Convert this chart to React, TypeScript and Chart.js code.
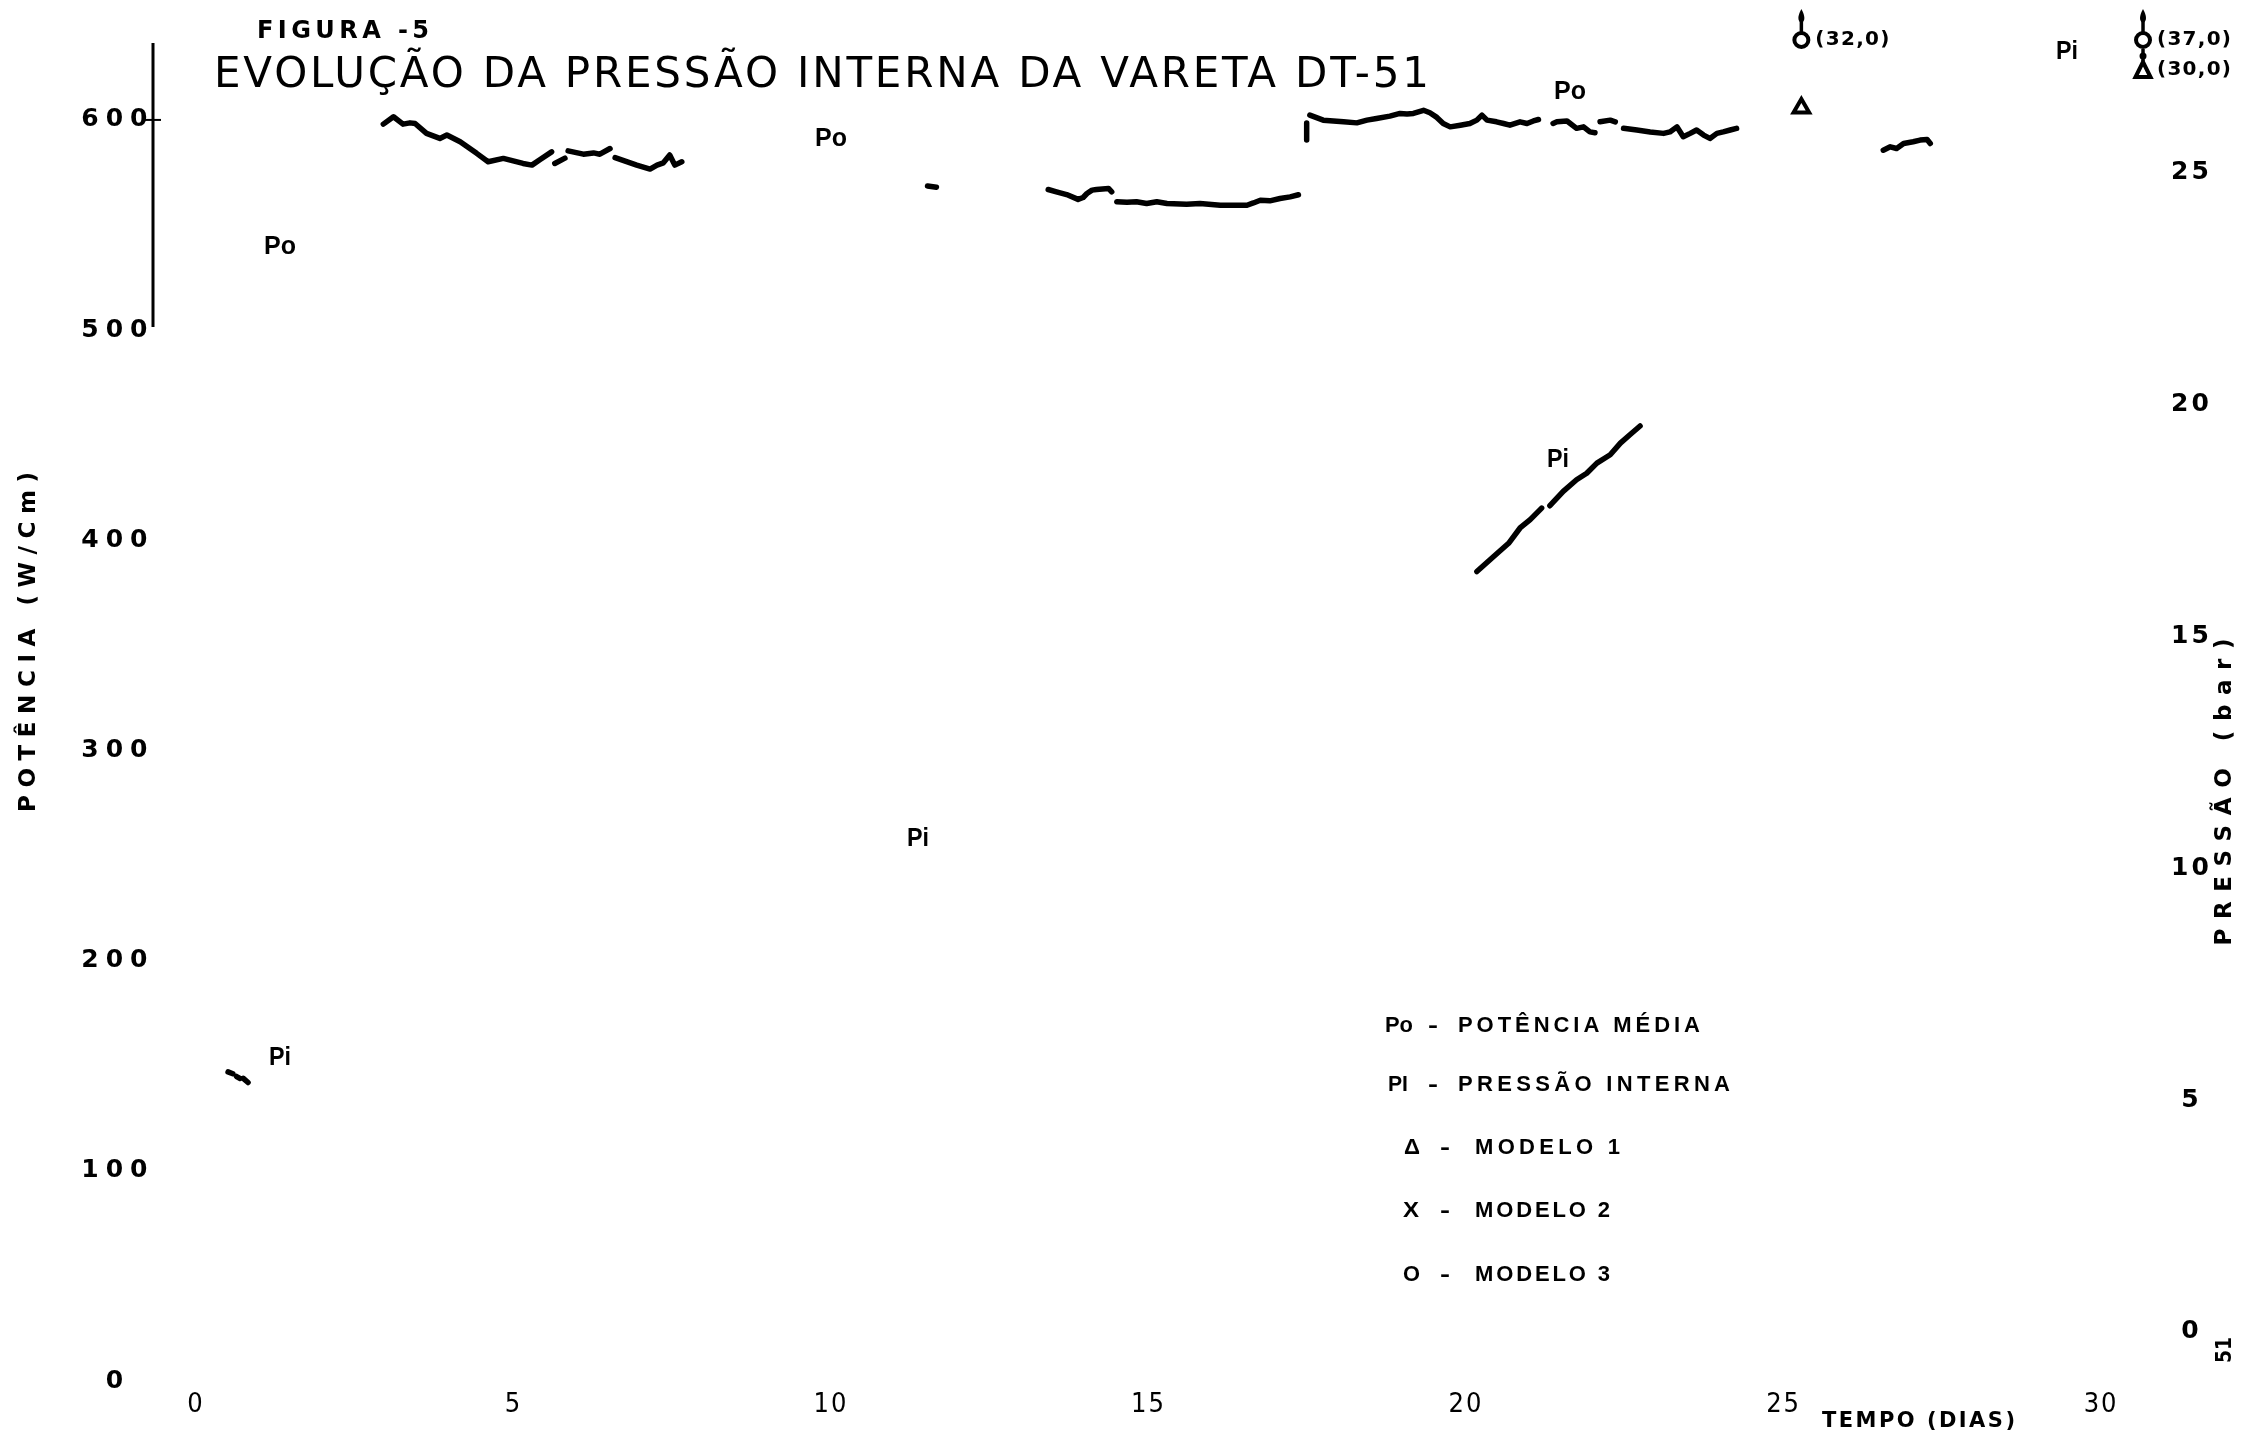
import React, { useEffect, useRef } from 'react';
import { Chart, registerables } from 'chart.js';

Chart.register(...registerables);

const W = 2241;
const H = 1442;

// ---- tick labels ----
const DAY_TICKS = [0, 5, 10, 15, 20, 25, 30];
const PO_TICKS = [0, 100, 200, 300, 400, 500, 600];
const PI_TICKS = [0, 5, 10, 15, 20, 25];

// ---- Po : potência média (W/cm) ; null = gap in the record ----
const PO_DAYS = [
  2.95, 3.11, 3.26, 3.37, 3.45, 3.63, 3.84, 3.95, 4.16, 4.42, 4.6, 4.84, 5.15, 5.29, 5.42, 5.6,
  5.62, 5.65, 5.81, 5.84, 5.86, 6.1, 6.26, 6.36, 6.52, 6.56, 6.6, 6.94, 7.15, 7.26, 7.36, 7.46, 7.54, 7.65,
  9.0, 11.52, 11.66, 12.5,
  13.42, 13.55, 13.71, 13.89, 13.97, 14.03, 14.11, 14.18, 14.37, 14.42, 14.46,
  14.5, 14.66, 14.81, 14.97, 15.13, 15.29, 15.6, 15.81, 16.13, 16.55, 16.65, 16.76, 16.91, 17.07, 17.23, 17.36,
  17.42, 17.49, 17.49, 17.52,
  17.54, 17.75, 18.07, 18.28, 18.44, 18.59, 18.8, 18.96, 19.07, 19.17, 19.33, 19.43, 19.54, 19.64, 19.75,
  19.91, 20.06, 20.17, 20.25, 20.33, 20.48, 20.59, 20.69, 20.85, 20.96, 21.06, 21.14, 21.25,
  21.37, 21.43, 21.59, 21.74, 21.85, 21.95, 22.03, 22.07,
  22.11, 22.27, 22.35, 22.42,
  22.48, 22.69, 22.9, 23.11, 23.21, 23.32, 23.42, 23.53, 23.63, 23.74, 23.84, 23.95, 24.05, 24.16, 24.26,
  25.5,
  26.57, 26.68, 26.78, 26.89, 27.04, 27.15, 27.26, 27.31,
];
const PO_WCM = [
  598.0, 601.5, 598.0, 598.6, 598.3, 593.6, 591.2, 592.8, 589.6, 584.1, 580.1, 581.7, 579.3, 578.5, 581.2, 584.8,
  null, 579.3, 581.8, null, 585.3, 583.7, 584.3, 583.7, 586.4, null, 582.1, 578.5, 576.6, 578.5, 579.6, 583.3, 578.5, 580.1,
  null, 568.6, 568.0, null,
  566.9, 565.8, 564.5, 562.2, 563.1, 565.0, 566.6, 566.9, 567.4, 565.8, null,
  561.1, 560.8, 561.1, 560.2, 561.1, 560.2, 559.9, 560.2, 559.4, 559.4, 560.5, 561.8, 561.5, 562.6, 563.4, 564.4,
  null, 598.5, 590.5, null,
  602.3, 599.9, 599.1, 598.6, 599.9, 600.7, 601.8, 603.1, 602.8, 603.1, 604.6, 603.4, 601.2, 598.3, 596.7,
  597.5, 598.3, 599.9, 602.3, 599.9, 599.1, 598.3, 597.5, 599.1, 598.3, 599.5, 600.2, null,
  598.3, 599.1, 599.5, 596.0, 596.7, 594.3, 593.9, null,
  599.1, 599.9, 599.1, null,
  596.0, 595.2, 594.3, 593.6, 594.3, 596.7, 592.0, 593.6, 595.2, 592.8, 591.2, 593.6, 594.3, 595.2, 596.0,
  null,
  585.6, 587.2, 586.4, 588.8, 589.6, 590.4, 590.7, 588.8,
];

// ---- Pi : pressão interna (bar) ----
const PI_DAYS = [
  0.505, 0.58, 0.61, 0.64, 0.69, 0.72, 0.745, 0.82,
  10.0,
  20.17, 20.43, 20.67, 20.85, 21.01, 21.19, 21.25,
  21.32, 21.53, 21.74, 21.9, 22.06, 22.27, 22.43, 22.58, 22.74,
];
const PI_BAR = [
  5.61, 5.57, null, 5.51, 5.47, null, 5.47, 5.38,
  null,
  16.4, 16.72, 17.01, 17.34, 17.52, 17.77, null,
  17.82, 18.13, 18.38, 18.52, 18.74, 18.92, 19.17, 19.35, 19.54,
];

// ---- model predictions (bar) ----
const MODEL1_DAYS = [25.28, 30.66];
const MODEL1_BAR = [26.4, 30.0];
const MODEL2_DAYS: number[] = [];
const MODEL2_BAR: number[] = [];
const MODEL3_DAYS = [25.28, 30.66];
const MODEL3_BAR = [32.0, 37.0];

// ---- axis ranges ----
const X_MIN = -0.677;
const X_MAX = 30.77;
const PO_MIN = 0;
const PO_MAX = 636.6;
const PI_MIN = -1.057;
const PI_MAX = 27.8;

type Pt = { x: number; y: number | null };
const series = (days: number[], vals: (number | null)[]): Pt[] =>
  days.map((d, i) => ({ x: d, y: vals[i] }));

function fitText(
  ctx: CanvasRenderingContext2D,
  text: string,
  x: number,
  y: number,
  width: number,
  font: string,
  align: 'left' | 'center' = 'left',
  rotate = 0
) {
  ctx.save();
  ctx.font = font;
  (ctx as any).letterSpacing = '0px';
  const n = Array.from(text).length;
  const natural = ctx.measureText(text).width;
  let ls = 0;
  let sx = 1;
  if (width > natural && n > 1) ls = (width - natural) / (n - 1);
  else sx = width / natural;
  ctx.translate(x, y);
  if (rotate) ctx.rotate(rotate);
  ctx.scale(sx, 1);
  (ctx as any).letterSpacing = ls + 'px';
  ctx.textBaseline = 'middle';
  ctx.textAlign = 'left';
  ctx.fillStyle = '#000';
  const start = align === 'center' ? -width / 2 / sx : 0;
  ctx.fillText(text, start, 0);
  ctx.restore();
}

const BOLD = (s: number) => `bold ${s}px "DejaVu Sans", sans-serif`;
const LBOLD = (s: number) => `bold ${s}px "Liberation Sans", Arial, sans-serif`;

const spacingPatch = {
  id: 'tickSpacing',
  beforeDraw(chart: any) {
    const specs: Record<string, string> = { x: '2px', yPo: '7px', yPi: '3px' };
    Object.keys(specs).forEach((id) => {
      const s = chart.scales[id];
      if (!s || s.__patched) return;
      const orig = s.drawLabels.bind(s);
      s.drawLabels = (area: any) => {
        const c = chart.ctx;
        c.save();
        c.letterSpacing = specs[id];
        orig(area);
        c.restore();
      };
      s.__patched = true;
    });
  },
};

const decorations = {
  id: 'decorations',
  afterDatasetsDraw(chart: any) {
    const ctx: CanvasRenderingContext2D = chart.ctx;
    const area = chart.chartArea;
    const xS = chart.scales.x;
    const yPo = chart.scales.yPo;

    // partial left axis line (500 .. top) with tick at 600
    ctx.save();
    ctx.strokeStyle = '#000';
    ctx.lineWidth = 3;
    ctx.beginPath();
    ctx.moveTo(area.left, yPo.getPixelForValue(500) - 3);
    ctx.lineTo(area.left, area.top);
    ctx.stroke();
    ctx.lineWidth = 2;
    ctx.beginPath();
    ctx.moveTo(area.left - 8, yPo.getPixelForValue(600));
    ctx.lineTo(area.left + 8, yPo.getPixelForValue(600));
    ctx.stroke();
    ctx.restore();

    // off-scale model values, stacked at the top with arrows
    const groups = new Map<number, { v: number; style: string }[]>();
    const add = (days: number[], vals: number[], style: string) =>
      days.forEach((d, i) => {
        if (vals[i] > PI_MAX) {
          if (!groups.has(d)) groups.set(d, []);
          groups.get(d)!.push({ v: vals[i], style });
        }
      });
    add(MODEL1_DAYS, MODEL1_BAR, 'triangle');
    add(MODEL2_DAYS, MODEL2_BAR, 'cross');
    add(MODEL3_DAYS, MODEL3_BAR, 'circle');
    groups.forEach((items, day) => {
      items.sort((a, b) => b.v - a.v);
      const px = xS.getPixelForValue(day);
      let y = 40;
      ctx.save();
      ctx.strokeStyle = '#000';
      ctx.fillStyle = '#000';
      // arrow on top (tear-drop head)
      ctx.lineWidth = 3.5;
      ctx.beginPath();
      ctx.moveTo(px, y - 8);
      ctx.lineTo(px, y - 20);
      ctx.stroke();
      ctx.beginPath();
      ctx.moveTo(px, y - 31);
      ctx.quadraticCurveTo(px - 6, y - 20, px, y - 17);
      ctx.quadraticCurveTo(px + 6, y - 20, px, y - 31);
      ctx.fill();
      items.forEach((it, k) => {
        ctx.lineWidth = 4;
        if (it.style === 'circle') {
          ctx.beginPath();
          ctx.arc(px, y, 7, 0, Math.PI * 2);
          ctx.stroke();
        } else if (it.style === 'triangle') {
          ctx.beginPath();
          ctx.moveTo(px, y - 8);
          ctx.lineTo(px - 7.5, y + 7);
          ctx.lineTo(px + 7.5, y + 7);
          ctx.closePath();
          ctx.stroke();
        } else {
          ctx.beginPath();
          ctx.moveTo(px - 7, y - 7);
          ctx.lineTo(px + 7, y + 7);
          ctx.moveTo(px + 7, y - 7);
          ctx.lineTo(px - 7, y + 7);
          ctx.stroke();
        }
        const label = '(' + it.v.toFixed(1).replace('.', ',') + ')';
        fitText(ctx, label, px + 14, y, 74, BOLD(20));
        if (k < items.length - 1) {
          ctx.lineWidth = 3.5;
          ctx.beginPath();
          ctx.moveTo(px, y + 9);
          ctx.lineTo(px, y + 21);
          ctx.stroke();
          ctx.beginPath();
          ctx.arc(px, y + 16, 3.5, 0, Math.PI * 2);
          ctx.fill();
        }
        y += 30;
      });
      ctx.restore();
    });
  },
  afterDraw(chart: any) {
    const ctx: CanvasRenderingContext2D = chart.ctx;
    // titles
    fitText(ctx, 'FIGURA -5', 257, 32, 172, BOLD(24));
    fitText(ctx, 'EVOLUÇÃO DA PRESSÃO INTERNA DA VARETA DT-51', 214, 76, 1215, `42px "DejaVu Sans", sans-serif`);
    // axis titles
    fitText(ctx, 'POTÊNCIA (W/Cm)', 29, 642, 340, BOLD(23), 'center', -Math.PI / 2);
    fitText(ctx, 'PRESSÃO (bar)', 2225, 792, 307, BOLD(23), 'center', -Math.PI / 2);
    fitText(ctx, 'TEMPO (DIAS)', 1822, 1422, 193, BOLD(21));
    fitText(ctx, '51', 2225, 1350, 26, BOLD(22), 'center', -Math.PI / 2);
    // curve labels
    const lbl: [string, number, number][] = [
      ['Po', 280, 247],
      ['Pi', 280, 1058],
      ['Po', 831, 139],
      ['Pi', 918, 839],
      ['Pi', 1558, 460],
      ['Po', 1570, 92],
      ['Pi', 2067, 52],
    ];
    lbl.forEach(([t, x, y]) => fitText(ctx, t, x, y, t === 'Po' ? 32 : 22, LBOLD(25), 'center'));
    // legend block
    const F = LBOLD(22);
    fitText(ctx, 'Po', 1385, 1026, 28, F);
    fitText(ctx, '-', 1428, 1026, 10, F);
    fitText(ctx, 'POTÊNCIA MÉDIA', 1458, 1026, 242, F);
    fitText(ctx, 'PI', 1388, 1085, 20, F);
    fitText(ctx, '-', 1428, 1085, 10, F);
    fitText(ctx, 'PRESSÃO INTERNA', 1458, 1085, 272, F);
    fitText(ctx, 'Δ', 1404, 1148, 16, F);
    fitText(ctx, '-', 1440, 1148, 10, F);
    fitText(ctx, 'MODELO 1', 1475, 1148, 145, F);
    fitText(ctx, 'X', 1403, 1211, 16, F);
    fitText(ctx, '-', 1440, 1211, 10, F);
    fitText(ctx, 'MODELO 2', 1475, 1211, 135, F);
    fitText(ctx, 'O', 1403, 1275, 17, F);
    fitText(ctx, '-', 1440, 1275, 10, F);
    fitText(ctx, 'MODELO 3', 1475, 1275, 135, F);
  },
};

export default function App() {
  const ref = useRef<HTMLCanvasElement | null>(null);
  useEffect(() => {
    if (!ref.current) return;
    const lineStyle = {
      borderColor: '#000',
      backgroundColor: '#000',
      borderWidth: 5.5,
      pointRadius: 0,
      borderCapStyle: 'round' as const,
      borderJoinStyle: 'round' as const,
      spanGaps: false,
      tension: 0,
      fill: false,
    };
    const onScale = (days: number[], vals: number[]) =>
      series(days, vals).filter((p) => (p.y as number) <= PI_MAX);
    const markStyle = {
      showLine: false,
      borderColor: '#000',
      pointBorderColor: '#000',
      pointBackgroundColor: '#fff',
      pointBorderWidth: 4,
      pointRadius: 9,
    };
    const chart = new Chart(ref.current, {
      type: 'line',
      data: {
        datasets: [
          { label: 'Po - Potência média', data: series(PO_DAYS, PO_WCM), yAxisID: 'yPo', ...lineStyle },
          { label: 'Pi - Pressão interna', data: series(PI_DAYS, PI_BAR), yAxisID: 'yPi', ...lineStyle },
          { label: 'Δ - Modelo 1', data: onScale(MODEL1_DAYS, MODEL1_BAR), yAxisID: 'yPi', pointStyle: 'triangle', ...markStyle },
          { label: 'X - Modelo 2', data: onScale(MODEL2_DAYS, MODEL2_BAR), yAxisID: 'yPi', pointStyle: 'crossRot', ...markStyle },
          { label: 'O - Modelo 3', data: onScale(MODEL3_DAYS, MODEL3_BAR), yAxisID: 'yPi', pointStyle: 'circle', ...markStyle },
        ] as any,
      },
      options: {
        responsive: false,
        animation: false,
        devicePixelRatio: 1,
        layout: { padding: { top: 43, left: 0, right: 0, bottom: 0 } },
        plugins: { legend: { display: false }, tooltip: { enabled: false }, title: { display: false } },
        scales: {
          x: {
            type: 'linear',
            min: X_MIN,
            max: X_MAX,
            bounds: 'data',
            grid: { display: false, drawTicks: false },
            border: { display: false },
            ticks: {
              color: '#000',
              padding: 8,
              maxRotation: 0,
              autoSkip: false,
              font: { family: '"Liberation Sans Narrow", "DejaVu Sans Condensed", "Liberation Sans", sans-serif', size: 27 },
            },
            afterBuildTicks: (s: any) => { s.ticks = DAY_TICKS.map((v) => ({ value: v })); },
            afterFit: (s: any) => { s.height = H - 1381; },
          },
          yPo: {
            type: 'linear',
            position: 'left',
            min: PO_MIN,
            max: PO_MAX,
            bounds: 'data',
            grid: { display: false, drawTicks: false },
            border: { display: false },
            ticks: {
              color: '#000',
              padding: 9,
              crossAlign: 'center',
              font: { family: '"DejaVu Sans", sans-serif', size: 25, weight: 'bold' },
            },
            afterBuildTicks: (s: any) => { s.ticks = PO_TICKS.map((v) => ({ value: v })); },
            afterFit: (s: any) => { s.width = 153; },
          },
          yPi: {
            type: 'linear',
            position: 'right',
            min: PI_MIN,
            max: PI_MAX,
            bounds: 'data',
            grid: { display: false, drawTicks: false },
            border: { display: false },
            ticks: {
              color: '#000',
              padding: 24,
              crossAlign: 'center',
              font: { family: '"DejaVu Sans", sans-serif', size: 25, weight: 'bold' },
            },
            afterBuildTicks: (s: any) => { s.ticks = PI_TICKS.map((v) => ({ value: v })); },
            afterFit: (s: any) => { s.width = W - 2150; },
          },
        },
      } as any,
      plugins: [spacingPatch, decorations],
    });
    return () => chart.destroy();
  }, []);
  return (
    <div style={{ position: 'absolute', left: 0, top: 0, width: W, height: H, background: '#fff' }}>
      <canvas ref={ref} width={W} height={H} style={{ width: W, height: H, display: 'block' }} />
    </div>
  );
}
